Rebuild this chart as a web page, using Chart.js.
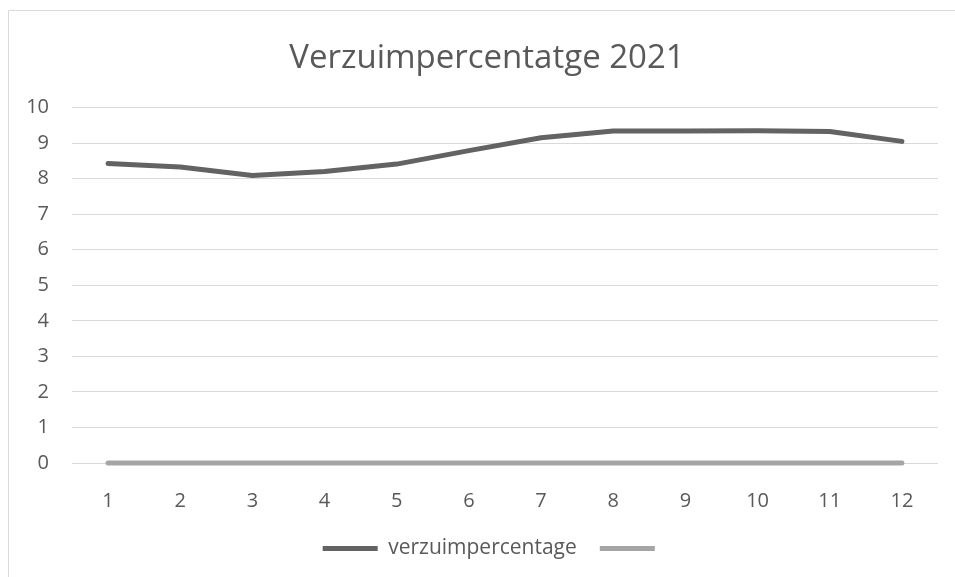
<!DOCTYPE html>
<html>
<head>
<meta charset="utf-8">
<title>Verzuimpercentatge 2021</title>
<script src="https://cdn.jsdelivr.net/npm/chart.js@4"></script>
<style>
  html, body { margin: 0; padding: 0; background: #fff; overflow: hidden; }
  #wrap { width: 980px; height: 577px; }
</style>
</head>
<body>
<div id="wrap"><canvas id="verzuim"></canvas></div>
<script>
// months 1..12
const months = ['1', '2', '3', '4', '5', '6', '7', '8', '9', '10', '11', '12'];
const verzuim = [8.43, 8.33, 8.09, 8.2, 8.41, 8.79, 9.15, 9.34, 9.34, 9.35, 9.33, 9.05];
const tweedeReeks = [0, 0, 0, 0, 0, 0, 0, 0, 0, 0, 0, 0];
const yTicks = [0, 10, 1]; // min, max, step

const textColor = '#595959';
const gridColor = '#d9d9d9';
const fontFam = "'Open Sans', sans-serif";

// light frame around the chart, like the office chart border
const frame = {
  id: 'frame',
  beforeDraw(chart) {
    const ctx = chart.ctx;
    ctx.save();
    ctx.strokeStyle = gridColor;
    ctx.lineWidth = 1;
    ctx.beginPath();
    ctx.moveTo(8.5, chart.height);
    ctx.lineTo(8.5, 10.5);
    ctx.lineTo(chart.width, 10.5);
    ctx.stroke();
    ctx.restore();
  }
};

// nudge title and legend a bit to the right (excel centres them on the whole frame)
const nudge = {
  id: 'nudge',
  afterLayout(chart) {
    chart.titleBlock.left += 7;
    chart.titleBlock.right += 7;
    chart.legend.left += 14;
    chart.legend.right += 14;
  }
};

new Chart(document.getElementById('verzuim'), {
  type: 'line',
  data: {
    labels: months,
    datasets: [{
      label: 'verzuimpercentage',
      data: verzuim,
      borderColor: '#636363',
      backgroundColor: '#636363',
      borderWidth: 5,
      borderCapStyle: 'round',
      borderJoinStyle: 'round',
      pointRadius: 0,
      tension: 0,
      clip: false
    }, {
      label: '',
      data: tweedeReeks,
      borderColor: '#a5a5a5',
      backgroundColor: '#a5a5a5',
      borderWidth: 5,
      borderCapStyle: 'round',
      borderJoinStyle: 'round',
      pointRadius: 0,
      tension: 0,
      clip: false
    }]
  },
  options: {
    responsive: true,
    maintainAspectRatio: false,
    animation: false,
    layout: { padding: { left: 22, right: 42, top: 0, bottom: 8 } },
    plugins: {
      title: {
        display: true,
        text: 'Verzuimpercentatge 2021',
        color: textColor,
        font: { family: fontFam, size: 33, weight: 'normal' },
        padding: { top: 39, bottom: 29 }
      },
      legend: {
        position: 'bottom',
        labels: {
          color: textColor,
          font: { family: fontFam, size: 21 },
          usePointStyle: true,
          pointStyle: 'line',
          pointStyleWidth: 55,
          padding: 23
        }
      },
      tooltip: { enabled: false }
    },
    scales: {
      x: {
        offset: true,
        grid: { display: false },
        border: { display: false },
        afterFit(scale) { scale.height -= 16; },
        ticks: {
          color: textColor,
          font: { family: fontFam, size: 20 },
          padding: 18
        }
      },
      y: {
        min: yTicks[0],
        max: yTicks[1],
        afterFit(scale) { scale.width = 50; },
        grid: { color: gridColor, drawTicks: false },
        border: { display: false },
        ticks: {
          stepSize: yTicks[2],
          color: textColor,
          font: { family: fontFam, size: 20 },
          padding: 23
        }
      }
    }
  },
  plugins: [frame, nudge]
});
</script>
</body>
</html>
